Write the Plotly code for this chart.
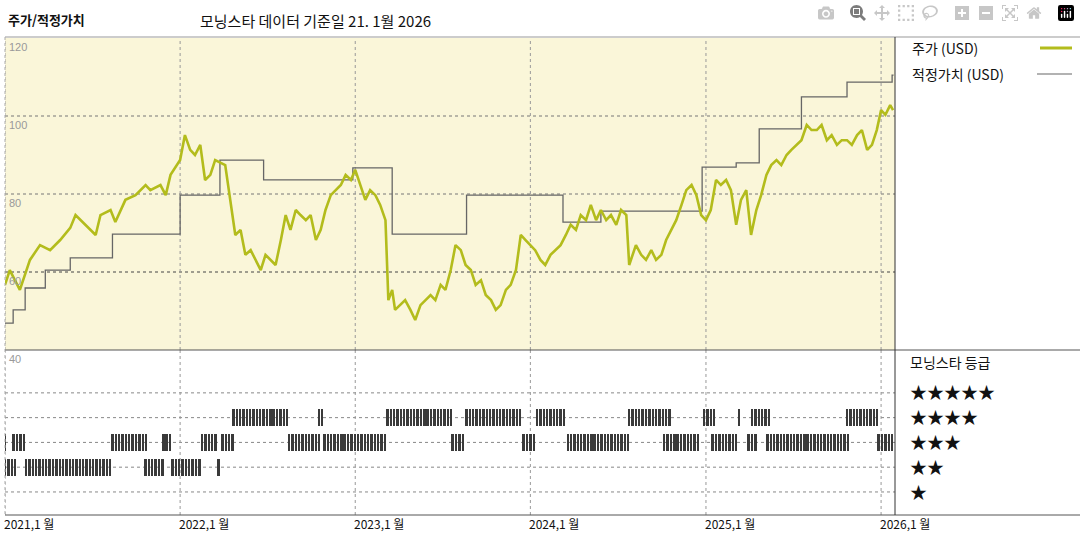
import pandas as pd
import plotly.graph_objects as go

price_dates = [
 "2021-01-01","2021-01-11","2021-02-01","2021-02-22","2021-03-15","2021-04-05","2021-04-26","2021-05-17","2021-05-28","2021-06-18","2021-07-09","2021-07-19","2021-08-09","2021-08-19","2021-09-09","2021-09-30","2021-10-21","2021-10-31","2021-11-21","2021-12-02","2021-12-12",
 "2022-01-01","2022-01-11","2022-01-22","2022-02-01","2022-02-12","2022-02-22","2022-03-05","2022-03-15","2022-04-05","2022-04-16","2022-04-26","2022-05-07","2022-05-17","2022-05-28","2022-06-07","2022-06-18","2022-06-28","2022-07-09","2022-07-19","2022-07-30","2022-08-09","2022-08-19","2022-08-30","2022-09-09","2022-09-20","2022-09-30","2022-10-11","2022-10-21","2022-10-31","2022-11-11","2022-11-21","2022-12-02","2022-12-12","2022-12-23",
 "2023-01-01","2023-01-11","2023-01-22","2023-02-01","2023-02-12","2023-02-22","2023-03-05","2023-03-11","2023-03-19","2023-03-25","2023-04-05","2023-04-15","2023-04-26","2023-05-06","2023-05-17","2023-05-27","2023-06-07","2023-06-17","2023-06-28","2023-07-08","2023-07-19","2023-07-29","2023-08-09","2023-08-19","2023-08-30","2023-09-09","2023-09-20","2023-09-30","2023-10-11","2023-10-21","2023-10-31","2023-11-11","2023-11-21","2023-12-02","2023-12-12","2023-12-22",
 "2024-01-01","2024-01-11","2024-01-22","2024-02-01","2024-02-12","2024-02-22","2024-03-04","2024-03-15","2024-03-25","2024-04-05","2024-04-15","2024-04-26","2024-05-06","2024-05-17","2024-05-27","2024-06-07","2024-06-17","2024-06-28","2024-07-08","2024-07-19","2024-07-25","2024-08-08","2024-08-19","2024-08-29","2024-09-09","2024-09-19","2024-09-30","2024-10-10","2024-10-21","2024-10-31","2024-11-11","2024-11-21","2024-12-02","2024-12-12","2024-12-22",
 "2025-01-01","2025-01-11","2025-01-22","2025-02-01","2025-02-12","2025-02-22","2025-03-05","2025-03-15","2025-03-26","2025-04-05","2025-04-16","2025-04-26","2025-05-07","2025-05-17","2025-05-28","2025-06-07","2025-06-18","2025-06-28","2025-07-09","2025-07-19","2025-07-30","2025-08-09","2025-08-20","2025-08-30","2025-09-10","2025-09-20","2025-10-01","2025-10-11","2025-10-22","2025-11-01","2025-11-12","2025-11-22","2025-12-03","2025-12-13","2025-12-23","2026-01-01","2026-01-10","2026-01-20","2026-01-26",
]
price_values = [
 56.7,60.5,55.4,63.1,66.9,65.6,68.2,71.3,74.6,72.1,69.5,74.6,75.9,72.8,78.5,79.7,82.3,81.0,82.3,79.7,84.9,
 88.7,95.1,91.3,90.0,92.6,83.6,84.9,88.7,87.4,78.5,69.5,70.8,64.4,65.6,63.1,60.5,64.4,63.1,61.8,68.2,74.6,70.8,75.9,74.6,73.3,74.6,68.2,70.8,75.9,79.7,81.0,82.3,84.9,83.6,
 86.2,82.3,78.5,81.0,79.7,77.2,73.3,52.8,55.4,50.3,51.5,52.8,50.3,47.7,51.5,52.8,54.1,52.8,56.7,55.4,60.5,66.9,65.6,61.8,60.5,56.7,57.9,54.1,52.8,50.3,51.5,55.4,56.7,60.5,69.5,68.2,
 66.9,65.6,63.1,61.8,64.4,65.6,66.9,69.5,72.1,70.8,74.6,73.3,77.2,73.3,75.9,73.3,74.6,72.1,75.9,74.6,61.8,66.9,64.4,63.1,65.6,63.1,64.4,68.2,70.8,73.3,77.2,81.0,82.3,79.7,74.6,
 73.3,75.9,83.6,82.3,83.6,81.0,72.1,78.5,81.0,69.5,75.9,79.7,84.9,87.4,88.7,87.4,90.0,91.3,92.6,93.8,97.7,96.4,96.4,97.7,93.8,95.1,92.6,93.8,93.8,92.6,95.1,96.4,91.3,92.6,96.4,101.5,100.3,102.8,101.5,
]

fv_dates = ["2021-01-01","2021-01-18","2021-02-12","2021-03-26","2021-05-17","2021-08-13","2022-01-01","2022-03-25","2022-06-24","2022-12-27","2023-03-19","2023-08-21","2024-03-09","2024-05-27","2024-12-24","2025-03-05","2025-04-22","2025-07-19","2025-10-22","2026-01-24","2026-01-27"]
fv_values = [46.9,50.3,55.9,60.5,63.6,69.7,79.7,88.7,83.6,86.7,69.7,79.7,72.8,75.6,86.9,88.0,96.7,104.9,108.7,110.5,110.5]

rating_starts = ["2021-01-01","2021-01-19","2021-08-13","2021-11-27","2022-02-16","2022-03-30","2022-08-16","2022-10-29","2023-07-23","2023-12-18","2024-03-19","2024-10-06","2025-01-15","2025-03-31","2025-05-09","2025-12-27",
                 "2021-01-01","2021-02-14","2021-10-21","2021-12-16","2022-03-22",
                 "2022-04-22","2022-10-17","2023-03-09","2023-08-21","2024-01-15","2024-07-25","2024-12-28","2025-03-11","2025-04-07","2025-10-22"]
rating_ends = ["2021-01-03","2021-02-09","2021-10-23","2021-12-15","2022-03-22","2022-04-22","2022-10-19","2023-03-09","2023-08-19","2024-01-11","2024-07-23","2024-12-16","2025-03-05","2025-04-19","2025-10-26","2026-01-27",
               "2021-01-22","2021-08-13","2021-11-29","2022-02-16","2022-03-26",
               "2022-08-16","2022-10-29","2023-07-23","2023-12-16","2024-03-12","2024-10-17","2025-01-24","2025-03-17","2025-05-12","2025-12-27"]
rating_stars = [3]*16 + [2]*5 + [4]*10

years = [2021, 2022, 2023, 2024, 2025, 2026]
ytick_vals = [120, 100, 80, 60, 40]

FONT = "Noto Sans CJK KR"
bx, by = [], []
for s, e, r in zip(rating_starts, rating_ends, rating_stars):
    for d in pd.date_range(s, e, freq="7D"):
        bx.append(d); by.append(r)

fig = go.Figure()
fig.add_trace(go.Scatter(x=fv_dates, y=fv_values, mode="lines", line=dict(color="#666666", width=1.3, shape="hv"),
                         xaxis="x", yaxis="y", hoverinfo="skip"))
fig.add_trace(go.Scatter(x=pd.to_datetime(price_dates), y=price_values, mode="lines", line=dict(color="#b3bc1c", width=2.6),
                         xaxis="x", yaxis="y"))
fig.add_trace(go.Bar(x=bx, y=[0.68]*len(bx), base=[r-0.34 for r in by], width=5*86400000,
                     marker=dict(color="#3a3a3a", line=dict(width=0)), xaxis="x2", yaxis="y2"))

xr = ["2021-01-01", "2026-01-30"]
dom = [5/1080, 895/1080]
ytop = [(540-350)/540, (540-38)/540]
ybot = [(540-515)/540, (540-350)/540]
fig.update_layout(
    width=1080, height=540, margin=dict(l=0, r=0, t=0, b=0),
    paper_bgcolor="white", plot_bgcolor="rgba(0,0,0,0)", showlegend=False, bargap=0,
    font=dict(family=FONT, color="#222"),
    xaxis=dict(domain=dom, range=xr, type="date", showgrid=False, showticklabels=False, zeroline=False, anchor="y"),
    yaxis=dict(domain=ytop, range=[40, 120], showgrid=False, showticklabels=False, zeroline=False),
    xaxis2=dict(domain=dom, range=xr, type="date", showgrid=False, showticklabels=False, zeroline=False, anchor="y2"),
    yaxis2=dict(domain=ybot, range=[0.07, 6.73], showgrid=False, showticklabels=False, zeroline=False),
)
shapes = [
    dict(type="rect", xref="x domain", yref="y domain", x0=0, x1=1, y0=0, y1=1, fillcolor="#faf6d9", line_width=0, layer="below"),
]
for v in [100, 80, 60]:
    shapes.append(dict(type="line", xref="x domain", yref="y", x0=0, x1=1, y0=v, y1=v,
                       line=dict(color="#777" if v != 60 else "#444", width=1, dash="dot"), layer="below"))
for r in [1, 2, 3, 4, 5]:
    shapes.append(dict(type="line", xref="x2 domain", yref="y2", x0=0, x1=1, y0=r, y1=r,
                       line=dict(color="#888", width=1, dash="dot"), layer="below"))
for yv in years:
    for xa, ya in [("x", "y domain"), ("x2", "y2 domain")]:
        shapes.append(dict(type="line", xref=xa, yref=ya, x0=f"{yv}-01-01", x1=f"{yv}-01-01", y0=0, y1=1,
                           line=dict(color="#999", width=1, dash="dot"), layer="below"))
P = "paper"
def px(x): return x/1080
def py(y): return (540-y)/540
shapes += [
    dict(type="line", xref=P, yref=P, x0=px(5), x1=px(1080), y0=py(37), y1=py(37), line=dict(color="#999", width=1)),
    dict(type="line", xref=P, yref=P, x0=px(5), x1=px(1080), y0=py(350), y1=py(350), line=dict(color="#555", width=1)),
    dict(type="line", xref=P, yref=P, x0=px(5), x1=px(1080), y0=py(515), y1=py(515), line=dict(color="#555", width=1)),
    dict(type="line", xref=P, yref=P, x0=px(895), x1=px(895), y0=py(37), y1=py(515), line=dict(color="#333", width=1)),
    dict(type="line", xref=P, yref=P, x0=px(5), x1=px(5), y0=py(37), y1=py(515), line=dict(color="#aaa", width=1, dash="dot")),
    dict(type="line", xref=P, yref=P, x0=px(1040), x1=px(1072), y0=py(48), y1=py(48), line=dict(color="#b3bc1c", width=3)),
    dict(type="line", xref=P, yref=P, x0=px(1037), x1=px(1072), y0=py(74), y1=py(74), line=dict(color="#666", width=1.2)),
]
fig.update_layout(shapes=shapes)

ann = [
    dict(x=px(6), y=py(19), text="<b>주가/적정가치</b>", size=13),
    dict(x=px(198), y=py(20), text="모닝스타 데이터 기준일 21. 1월 2026", size=15),
    dict(x=px(910), y=py(48), text="주가 (USD)", size=14),
    dict(x=px(910), y=py(74), text="적정가치 (USD)", size=14),
    dict(x=px(908), y=py(362), text="모닝스타 등급", size=14),
]
for i, r in enumerate([5, 4, 3, 2, 1]):
    ann.append(dict(x=px(908), y=py(391 + i*25), text="★"*r, size=17))
out = [dict(xref=P, yref=P, x=a["x"], y=a["y"], text=a["text"], showarrow=False, xanchor="left", yanchor="middle",
            font=dict(size=a["size"], family=FONT, color="#111")) for a in ann]
for v in ytick_vals:
    yy = 38 + (120 - v) * 3.9
    out.append(dict(xref=P, yref=P, x=px(7), y=py(yy + 9), text=str(v), showarrow=False, xanchor="left", yanchor="middle",
                    font=dict(size=11, family="Liberation Sans", color="#999")))
for yv in years:
    out.append(dict(xref="x2", yref=P, x=f"{yv}-01-01", y=py(523), text=f"{yv},1 월", showarrow=False, xanchor="left",
                    yanchor="middle", xshift=-3, font=dict(size=12, family=FONT, color="#111")))
fig.update_layout(annotations=out)
fig.write_html("out.html", post_script="document.body.style.margin='0';document.body.style.overflow='hidden';")
